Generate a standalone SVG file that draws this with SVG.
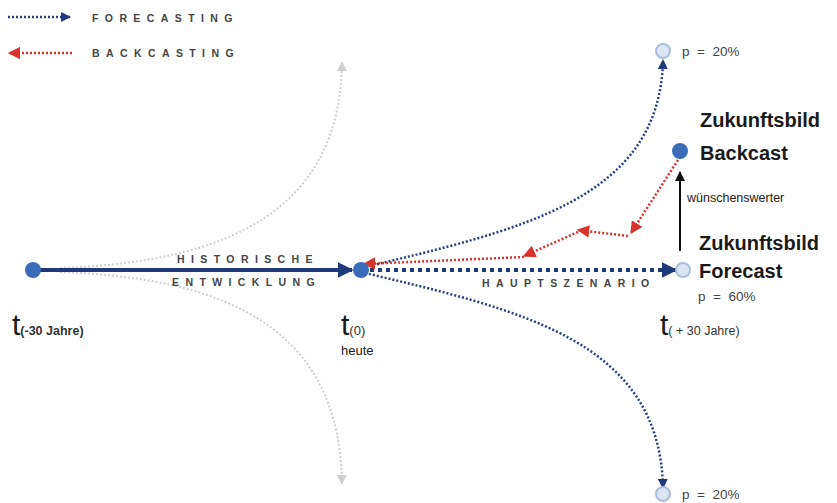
<svg xmlns="http://www.w3.org/2000/svg" width="837" height="503" viewBox="0 0 837 503">
<style>
.lbl{font-family:"Liberation Sans",Arial,sans-serif;fill:#1a1a1a}
.caps{font-family:"Liberation Sans",Arial,sans-serif;font-weight:bold;font-size:10.5px;letter-spacing:6.4px;fill:#444}
.big{font-family:"Liberation Sans",Arial,sans-serif;font-weight:bold;font-size:20px;fill:#1a1a1a}
.p{font-family:"Liberation Sans",Arial,sans-serif;font-size:13.5px;fill:#444;white-space:pre}
.blue{fill:none;stroke:#243f85;stroke-width:2.5;stroke-dasharray:2 2}
.gray{fill:none;stroke:#cfcfcf;stroke-width:2;stroke-dasharray:2 2}
.red{fill:none;stroke:#d8322b;stroke-width:2.5;stroke-dasharray:2 2}
.nd{fill:#3a6cb8}
.lt{fill:#dce6f3;stroke:#a9bddc;stroke-width:2}
</style>
<defs>
<marker id="ab" viewBox="0 0 10 10" refX="9" refY="5" markerWidth="4" markerHeight="4" orient="auto" markerUnits="strokeWidth"><path d="M0,0 L10,5 L0,10 z" fill="#1f3a7a"/></marker>
<marker id="abig" viewBox="0 0 10 10" refX="9" refY="5" markerWidth="4" markerHeight="4" orient="auto" markerUnits="strokeWidth"><path d="M0,0 L10,5 L0,10 z" fill="#1f3a7a"/></marker>
<marker id="ar" viewBox="0 0 10 10" refX="9" refY="5" markerWidth="5" markerHeight="5" orient="auto" markerUnits="strokeWidth"><path d="M0,0 L10,5 L0,10 z" fill="#d8322b"/></marker>
<marker id="ag" viewBox="0 0 10 10" refX="9" refY="5" markerWidth="5" markerHeight="5" orient="auto" markerUnits="strokeWidth"><path d="M0,0 L10,5 L0,10 z" fill="#cfcfcf"/></marker>
<marker id="ak" viewBox="0 0 10 10" refX="9" refY="5" markerWidth="5" markerHeight="5" orient="auto" markerUnits="strokeWidth"><path d="M0,0 L10,5 L0,10 z" fill="#111"/></marker>
</defs>

<g id="legend">
<line x1="8" y1="17" x2="70" y2="17" class="blue" marker-end="url(#ab)"/>
<text x="92" y="22" class="caps">FORECASTING</text>
<line x1="72" y1="53" x2="9" y2="53" class="red" marker-end="url(#ar)"/>
<text x="92" y="57" class="caps">BACKCASTING</text>
</g>

<g id="connectors">
<path d="M60,268 C 230,262 340,210 342,62" class="gray" marker-end="url(#ag)"/>
<path d="M60,272 C 230,278 340,330 342,484" class="gray" marker-end="url(#ag)"/>
<line x1="40" y1="270" x2="352" y2="270" stroke="#1f3a7a" stroke-width="4" marker-end="url(#abig)"/>
<path d="M361,268 C 520,230 660,200 663,60" class="blue" marker-end="url(#ab)"/>
<path d="M361,272 C 520,310 660,340 663,488" class="blue" marker-end="url(#ab)"/>
<line x1="370" y1="270" x2="676" y2="270" stroke="#1f3a7a" stroke-width="4" stroke-dasharray="4 4" marker-end="url(#abig)"/>
<line x1="678" y1="160" x2="631" y2="233" class="red" marker-end="url(#ar)"/>
<line x1="628" y1="236" x2="578" y2="230" class="red" marker-end="url(#ar)"/>
<line x1="578" y1="232" x2="524" y2="256" class="red" marker-end="url(#ar)"/>
<line x1="524" y1="257" x2="364" y2="264" class="red" marker-end="url(#ar)"/>
<line x1="680" y1="251" x2="680" y2="172" stroke="#111" stroke-width="2" marker-end="url(#ak)"/>
<text x="177" y="263" class="caps">HISTORISCHE</text>
<text x="172" y="286" class="caps">ENTWICKLUNG</text>
<text x="482" y="287" class="caps">HAUPTSZENARIO</text>
<text x="687" y="202" class="lbl" font-size="12.5">wünschenswerter</text>
</g>

<g id="n-past">
<circle cx="33" cy="270" r="8" class="nd"/>
<text x="12" y="335" class="lbl"><tspan font-size="30">t</tspan><tspan font-size="12.5" font-weight="bold" fill="#333">(-30 Jahre)</tspan></text>
</g>

<g id="n-now">
<circle cx="361" cy="270" r="8" class="nd"/>
<text x="341" y="335" class="lbl"><tspan font-size="30">t</tspan><tspan font-size="13" fill="#333">(0)</tspan></text>
<text x="341" y="355" class="lbl" font-size="13">heute</text>
</g>

<g id="n-up">
<circle cx="663" cy="51" r="7" class="lt"/>
<text x="682" y="56" class="p">p  =  20%</text>
</g>

<g id="n-down">
<circle cx="663" cy="494" r="7" class="lt"/>
<text x="682" y="499" class="p">p  =  20%</text>
</g>

<g id="n-backcast">
<circle cx="680" cy="151" r="8" class="nd"/>
<text x="700" y="127" class="big">Zukunftsbild</text>
<text x="700" y="160" class="big">Backcast</text>
</g>

<g id="n-forecast">
<circle cx="683" cy="270" r="7" class="lt"/>
<text x="699" y="250" class="big">Zukunftsbild</text>
<text x="699" y="278" class="big">Forecast</text>
<text x="698" y="301" class="p">p  =  60%</text>
<text x="660" y="335" class="lbl"><tspan font-size="30">t</tspan><tspan font-size="12.5" fill="#333">( + 30 Jahre)</tspan></text>
</g>
</svg>
